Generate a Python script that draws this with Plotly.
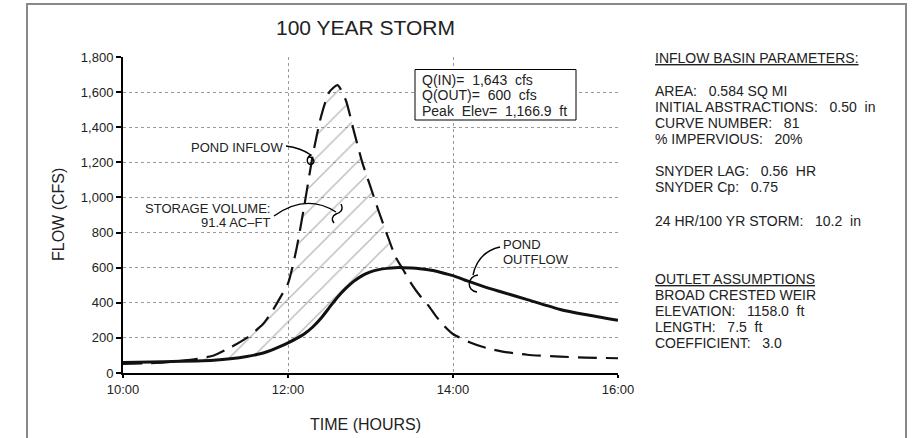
import plotly.graph_objects as go

time_hr = [10.0, 10.5, 10.9, 11.1, 11.3, 11.5, 11.7, 11.8, 11.9, 12.0, 12.1, 12.2, 12.3, 12.4,
           12.5, 12.6, 12.7, 12.8, 12.9, 13.0, 13.1, 13.2, 13.3, 13.4, 13.5, 13.6, 13.7, 13.8,
           13.9, 14.0, 14.2, 14.4, 14.6, 14.9, 15.3, 15.6, 16.0]
inflow_cfs = [52, 60, 80, 100, 145, 200, 280, 345, 425, 510, 700, 960, 1240, 1460,
              1600, 1640, 1555, 1375, 1200, 1060, 920, 790, 665, 585, 505, 440, 385, 320,
              265, 222, 175, 143, 122, 104, 93, 88, 84]
outflow_cfs = [60, 64, 69, 73, 81, 94, 114, 130, 150, 172, 196, 224, 262, 312,
               372, 432, 482, 523, 555, 576, 589, 596, 600, 600, 598, 594, 588, 580,
               567, 555, 520, 488, 460, 418, 362, 333, 300]

x_tick_vals = [10, 12, 14, 16]
x_tick_text = ["10:00", "12:00", "14:00", "16:00"]
y_tick_vals = [0, 200, 400, 600, 800, 1000, 1200, 1400, 1600, 1800]

title_text = "100 YEAR STORM"
x_title = "TIME (HOURS)"
y_title = "FLOW (CFS)"

S = "\u00a0"
box_lines = ["Q(IN)=" + S * 2 + "1,643" + S * 2 + "cfs",
             "Q(OUT)=" + S * 2 + "600" + S * 2 + "cfs",
             "Peak" + S * 2 + "Elev=" + S * 2 + "1,166.9" + S * 2 + "ft"]
basin_head = "INFLOW BASIN PARAMETERS:"
basin_lines = ["AREA:" + S * 3 + "0.584" + S + "SQ" + S + "MI",
               "INITIAL ABSTRACTIONS:" + S * 3 + "0.50" + S * 2 + "in",
               "CURVE NUMBER:" + S * 3 + "81",
               "%" + S + "IMPERVIOUS:" + S * 3 + "20%",
               "SNYDER LAG:" + S * 3 + "0.56" + S * 2 + "HR",
               "SNYDER Cp:" + S * 3 + "0.75",
               "24" + S + "HR/100" + S + "YR" + S + "STORM:" + S * 3 + "10.2" + S * 2 + "in"]
outlet_head = "OUTLET ASSUMPTIONS"
outlet_lines = ["BROAD CRESTED WEIR",
                "ELEVATION:" + S * 3 + "1158.0" + S * 2 + "ft",
                "LENGTH:" + S * 3 + "7.5" + S * 2 + "ft",
                "COEFFICIENT:" + S * 3 + "3.0"]

INK = "#222222"
FONT = "Liberation Sans, Arial, sans-serif"

W, H = 915, 438
L, R, T, B = 123, 297, 57, 65
PW, PH = W - L - R, H - T - B


def px_x(p):
    return (p - L) / PW


def px_y(p):
    return (H - B - p) / PH


def dx(p):
    return 10 + (p - L) * 6 / PW


def dy(p):
    return (H - B - p) * 1800 / PH


def note(text, x, y, xanchor="left", size=13, angle=0):
    return dict(text=text, x=px_x(x), y=px_y(y), xref="paper", yref="paper",
                xanchor=xanchor, yanchor="middle", showarrow=False, textangle=angle,
                font=dict(size=size, color=INK, family=FONT))


def path(*pts):
    # pts: (cmd, [(px,py), ...]) in pixel space -> data-space svg path
    out = []
    for cmd, xy in pts:
        out.append(cmd + " ".join(f"{dx(a):.4f},{dy(b):.2f}" for a, b in xy))
    return " ".join(out)


# storage region: where inflow exceeds outflow
n = len(time_hr)
above = [i for i in range(n) if inflow_cfs[i] > outflow_cfs[i]]
i0, i1 = max(above[0] - 1, 0), min(above[-1] + 1, n - 1)
poly_x = time_hr[i0:i1 + 1] + time_hr[i0:i1 + 1][::-1]
poly_y = inflow_cfs[i0:i1 + 1] + outflow_cfs[i0:i1 + 1][::-1]

fig = go.Figure()

fig.add_trace(go.Scatter(
    x=poly_x, y=poly_y, mode="lines", fill="toself",
    line=dict(width=0, shape="spline", smoothing=0.6),
    fillcolor="rgba(255,255,255,0)",
    fillpattern=dict(shape="/", size=16, solidity=0.08, fgcolor="#6e6e6e",
                     bgcolor="rgba(255,255,255,0)"),
    hoverinfo="skip"))

fig.add_trace(go.Scatter(
    x=time_hr, y=inflow_cfs, mode="lines", name="Pond inflow",
    line=dict(color="#111111", width=2.2, dash="19px,9px", shape="spline", smoothing=0.6)))

fig.add_trace(go.Scatter(
    x=time_hr, y=outflow_cfs, mode="lines", name="Pond outflow",
    line=dict(color="#111111", width=3, shape="spline", smoothing=0.6)))

axis_common = dict(showline=True, linecolor="black", linewidth=2, ticks="outside",
                   ticklen=5, tickwidth=1.5, tickcolor="black", showgrid=True,
                   gridcolor="#9a9a9a", griddash="dot", gridwidth=1, zeroline=False,
                   tickfont=dict(size=13, color=INK, family=FONT))

fig.update_xaxes(range=[10, 16], tickvals=x_tick_vals, ticktext=x_tick_text, **axis_common)
fig.update_xaxes(ticklen=3)
fig.update_yaxes(range=[0, 1800], tickvals=y_tick_vals, tickformat=",d", **axis_common)

annotations = [
    note(title_text, 365, 28, "center", 21),
    note(x_title, 365, 424, "center", 16),
    note(y_title, 58, 215, "center", 16, -90),
    note("POND INFLOW", 285, 147, "right", 13),
    note("STORAGE VOLUME:", 272, 208, "right", 13),
    note("91.4 AC\u2013FT", 272, 222.5, "right", 13),
    note("POND", 501, 244, "left", 13),
    note("OUTFLOW", 501, 259, "left", 13),
]
for k, line in enumerate(box_lines):
    annotations.append(note(line, 420, 80 + 15.4 * k, "left", 14))

annotations.append(note("<span style='text-decoration:underline'>" + basin_head + "</span>",
                        653, 58, "left", 14))
basin_y = [91, 107, 122.5, 139, 171, 187, 221]
for line, yy in zip(basin_lines, basin_y):
    annotations.append(note(line, 653, yy, "left", 14))

annotations.append(note("<span style='text-decoration:underline'>" + outlet_head + "</span>",
                        653, 279, "left", 14))
for k, line in enumerate(outlet_lines):
    annotations.append(note(line, 653, 295 + 16 * k, "left", 14))

leader = dict(color="black", width=1.4)
shapes = [
    # sheet border
    dict(type="rect", xref="paper", yref="paper", x0=px_x(27), x1=px_x(906),
         y0=px_y(460), y1=px_y(4), line=dict(color="#888888", width=2), layer="below"),
    # results box
    dict(type="rect", xref="paper", yref="paper", x0=px_x(415), x1=px_x(576),
         y0=px_y(120), y1=px_y(69.5), line=dict(color="black", width=1),
         fillcolor="white", layer="above"),
    # pond inflow leader + curl
    dict(type="path", xref="x", yref="y", line=leader,
         path=path(("M", [(286, 146)]), ("Q", [(301, 148), (311, 155)]),
                   ("C", [(305, 158), (307, 166), (312, 164)]),
                   ("C", [(316, 162), (313, 157), (309, 157)]))),
    # storage volume leader + hook
    dict(type="path", xref="x", yref="y", line=leader,
         path=path(("M", [(274, 216)]), ("Q", [(306, 193), (336, 212)]),
                   ("M", [(341, 204)]), ("C", [(344, 210), (340, 213), (336, 214)]),
                   ("C", [(332, 216), (331, 220), (334, 223)]))),
    # pond outflow leader + hook
    dict(type="path", xref="x", yref="y", line=leader,
         path=path(("M", [(500, 247)]), ("Q", [(478, 252), (473, 275)]),
                   ("M", [(478, 275)]), ("C", [(467, 276), (466, 291), (477, 292)]))),
]

fig.update_layout(
    width=W, height=H,
    margin=dict(l=L, r=R, t=T, b=B),
    paper_bgcolor="white",
    plot_bgcolor="white",
    showlegend=False,
    font=dict(family=FONT, color=INK),
    annotations=annotations,
    shapes=shapes,
)

fig.write_html("out.html", config={"displayModeBar": False},
               post_script="document.body.style.margin='0px';document.body.style.overflow='hidden';")
